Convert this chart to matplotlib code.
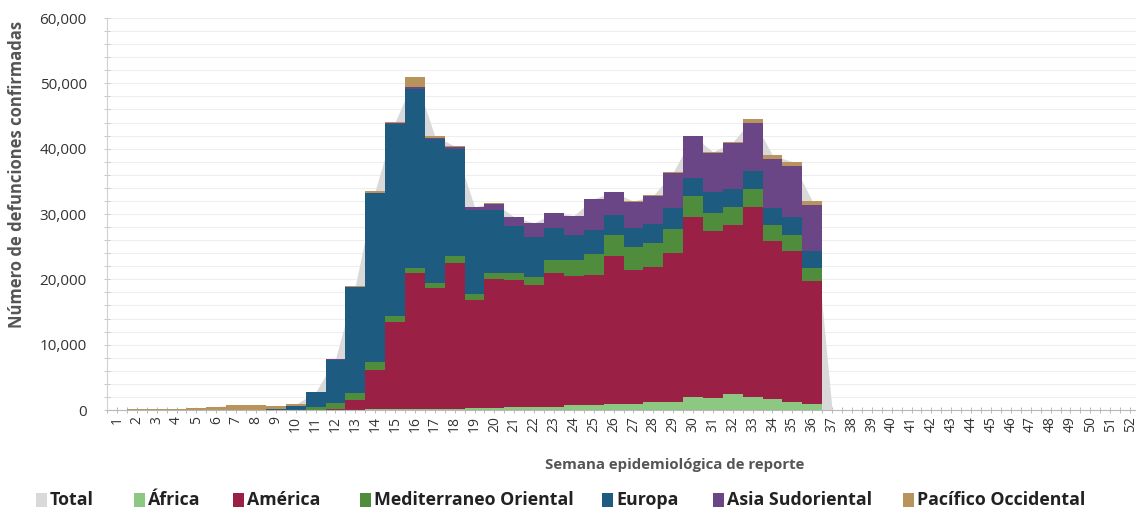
import matplotlib
matplotlib.use("Agg")
import matplotlib.pyplot as plt
import numpy as np
from matplotlib.patches import Rectangle
from matplotlib.ticker import MultipleLocator, FuncFormatter

# Weekly confirmed deaths by WHO region, epidemiological weeks 1-52
weeks = list(range(1, 53))

africa = [0, 0, 0, 0, 0, 0, 0, 0, 0, 0,
          0, 20, 30, 80, 120, 150, 180, 200, 250, 350,
          400, 400, 500, 800, 800, 900, 900, 1300, 1300, 2000,
          1900, 2400, 2000, 1700, 1200, 900] + [0] * 16
america = [0, 0, 0, 0, 0, 0, 0, 0, 0, 0,
           50, 100, 1450, 6100, 13300, 20750, 18420, 22300, 16550, 19650,
           19500, 18700, 20500, 19700, 19900, 22600, 20500, 20600, 22800, 27500,
           25500, 25900, 29000, 24100, 23200, 18800] + [0] * 16
mediterraneo = [0, 0, 0, 0, 0, 0, 0, 0, 20, 50,
                350, 900, 1150, 1200, 1000, 900, 900, 1000, 1000, 900,
                1000, 1300, 2000, 2400, 3200, 3300, 3600, 3600, 3600, 3300,
                2800, 2700, 2800, 2500, 2400, 2000] + [0] * 16
europa = [0, 0, 0, 0, 0, 0, 0, 20, 60, 500,
          2300, 6700, 16200, 25800, 29300, 27400, 22000, 16500, 12800, 9700,
          7200, 6100, 4800, 3900, 3700, 3000, 2800, 3000, 3200, 2700,
          3100, 2900, 2800, 2600, 2700, 2700] + [0] * 16
asia = [0, 0, 0, 0, 0, 0, 0, 0, 0, 0,
        0, 20, 50, 100, 150, 200, 200, 250, 450, 1000,
        1400, 2100, 2300, 2900, 4700, 3500, 4100, 4300, 5400, 6400,
        6100, 6900, 7300, 7500, 7900, 7000] + [0] * 16
pacifico = [50, 80, 100, 150, 300, 500, 800, 750, 500, 300,
            50, 60, 150, 300, 200, 1600, 250, 150, 50, 100,
            50, 50, 50, 50, 50, 50, 50, 50, 100, 100,
            100, 200, 700, 600, 600, 600] + [0] * 16

series = [
    ("África", africa, "#8cc882"),
    ("América", america, "#9b2046"),
    ("Mediterraneo Oriental", mediterraneo, "#4f8d3c"),
    ("Europa", europa, "#1e5b80"),
    ("Asia Sudoriental", asia, "#6a4686"),
    ("Pacífico Occidental", pacifico, "#b8945c"),
]
total_color = "#d9d9d9"

x = np.array(weeks)
total = np.sum([np.array(s[1]) for s in series], axis=0)

W, H = 1136, 514
fig = plt.figure(figsize=(W / 100, H / 100), dpi=100)
font = "Open Sans"

ax_l, ax_r, ax_b, ax_t = 107, 1140, 410, 18
ax = fig.add_axes([ax_l / W, 1 - ax_b / H, (ax_r - ax_l) / W, (ax_b - ax_t) / H])

# Total as a smooth area through week centres
ax.fill_between(x, 0, total, color=total_color, lw=0, zorder=1)

# Stacked regional bars
bottom = np.zeros(len(x))
for name, vals, col in series:
    v = np.array(vals, dtype=float)
    ax.bar(x, v, width=1.0, bottom=bottom, color=col, lw=0, zorder=2)
    bottom += v

ax.set_xlim(0.5, 52.5)
ax.set_ylim(0, 60000)

ax.yaxis.set_major_locator(MultipleLocator(10000))
ax.yaxis.set_minor_locator(MultipleLocator(2000))
ax.yaxis.set_major_formatter(FuncFormatter(lambda v, p: f"{int(v):,}"))
ax.grid(axis="y", which="both", color="#eeeeee", lw=0.8, zorder=0)
ax.set_axisbelow(True)

ax.set_xticks(weeks)
ax.set_xticklabels([str(w) for w in weeks], rotation=90, fontsize=10,
                   family=font, color="#333333")
ax.set_xticks(np.arange(0.5, 53, 1.0), minor=True)

for s in ["top", "right"]:
    ax.spines[s].set_visible(False)
ax.spines["left"].set_color("#d0d0d0")
ax.spines["bottom"].set_color("#b8b8b8")
ax.spines["left"].set_linewidth(0.8)
ax.spines["bottom"].set_linewidth(0.8)

ax.tick_params(axis="x", which="both", direction="inout", length=5,
               width=0.7, color="#b8b8b8", pad=2)
ax.tick_params(axis="y", which="both", direction="inout", length=5,
               width=0.7, color="#c8c8c8", pad=12)
for lab in ax.get_yticklabels():
    lab.set_fontsize(11)
    lab.set_family(font)
    lab.set_color("#333333")

fig.text(17 / W, 1 - 174 / H, "Número de defunciones confirmadas", rotation=90,
         ha="center", va="center", fontsize=12, fontweight="bold",
         family=font, color="#555555")
fig.text(675 / W, 1 - 465 / H, "Semana epidemiológica de reporte",
         ha="center", va="center", fontsize=10.8, fontweight="bold",
         family=font, color="#555555")

# Legend row
legend_items = [("Total", total_color, 36)] + [
    (name, col, xpos) for (name, _, col), xpos in
    zip(series, [134, 233, 360, 602, 713, 903])
]
ly = 500
for name, col, xpos in legend_items:
    fig.patches.append(Rectangle((xpos / W, 1 - (ly + 7) / H), 11 / W, 14 / H,
                                 transform=fig.transFigure, color=col, lw=0))
    fig.text((xpos + 14) / W, 1 - ly / H, name, ha="left", va="center",
             fontsize=12.8, fontweight="bold", family=font, color="#222222")

fig.savefig("out.png", dpi=100)
